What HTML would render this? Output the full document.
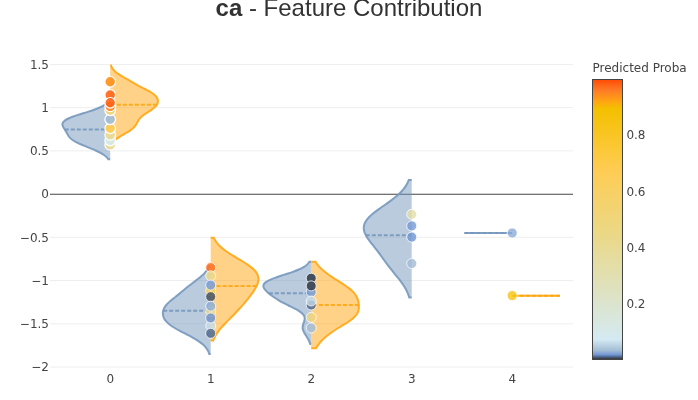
<!DOCTYPE html>
<html lang="en">
<head>
<meta charset="utf-8">
<title>ca - Feature Contribution</title>
<style>
html,body{margin:0;padding:0;background:#fff;overflow:hidden}
body{width:698px;height:400px;font-family:"Liberation Sans","DejaVu Sans",sans-serif}
#chart{display:block;width:698px;height:400px;background:#fff}
#chart .crisp{shape-rendering:crispEdges}
#chart text{white-space:pre}
</style>
</head>
<body>
<svg id="chart" width="698" height="400" viewBox="0 0 698 400" role="img" aria-label="ca - Feature Contribution">
<defs id="defs-fc"><g class="clips"><clipPath id="clipfcxyplot" class="plotclip"><rect width="523" height="320"></rect>
</clipPath>
<clipPath class="axesclip" id="clipfcx"><rect x="50" y="0" width="523" height="400"></rect>
</clipPath>
<clipPath class="axesclip" id="clipfcy"><rect x="0" y="50" width="698" height="320"></rect>
</clipPath>
<clipPath class="axesclip" id="clipfcxy"><rect x="50" y="50" width="523" height="320"></rect>
</clipPath>
</g>
<g class="gradients"><linearGradient x1="0" y1="1" x2="0" y2="0" gradientUnits="objectBoundingBox" id="gfc-cbcoloraxis"><stop offset="0%" stop-color="rgb(52, 55, 54)" stop-opacity="1"></stop>
<stop offset="0.7%" stop-color="rgb(74, 99, 138)" stop-opacity="1"></stop>
<stop offset="1.6%" stop-color="rgb(116, 153, 214)" stop-opacity="1"></stop>
<stop offset="3%" stop-color="rgb(162, 188, 213)" stop-opacity="1"></stop>
<stop offset="7%" stop-color="rgb(212, 234, 242)" stop-opacity="1"></stop>
<stop offset="45%" stop-color="rgb(235, 216, 134)" stop-opacity="1"></stop>
<stop offset="68%" stop-color="rgb(255, 204, 83)" stop-opacity="1"></stop>
<stop offset="89.7%" stop-color="rgb(244, 192, 0)" stop-opacity="1"></stop>
<stop offset="92.2%" stop-color="rgb(255, 166, 17)" stop-opacity="1"></stop>
<stop offset="96.3%" stop-color="rgb(255, 123, 38)" stop-opacity="1"></stop>
<stop offset="100%" stop-color="rgb(255, 77, 7)" stop-opacity="1"></stop>
</linearGradient>
</g>
</defs>
<g class="cartesianlayer"><g class="subplot xy"><g class="gridlayer"><g class="y"><path class="ygrid" transform="translate(0,367.02)" d="M50,0h523" style="stroke: rgb(238, 238, 238); stroke-opacity: 1; stroke-width: 1px;"></path>
<path class="ygrid" transform="translate(0,323.79)" d="M50,0h523" style="stroke: rgb(238, 238, 238); stroke-opacity: 1; stroke-width: 1px;"></path>
<path class="ygrid" transform="translate(0,280.56)" d="M50,0h523" style="stroke: rgb(238, 238, 238); stroke-opacity: 1; stroke-width: 1px;"></path>
<path class="ygrid" transform="translate(0,237.33)" d="M50,0h523" style="stroke: rgb(238, 238, 238); stroke-opacity: 1; stroke-width: 1px;"></path>
<path class="ygrid" transform="translate(0,150.87)" d="M50,0h523" style="stroke: rgb(238, 238, 238); stroke-opacity: 1; stroke-width: 1px;"></path>
<path class="ygrid" transform="translate(0,107.64)" d="M50,0h523" style="stroke: rgb(238, 238, 238); stroke-opacity: 1; stroke-width: 1px;"></path>
<path class="ygrid" transform="translate(0,64.41)" d="M50,0h523" style="stroke: rgb(238, 238, 238); stroke-opacity: 1; stroke-width: 1px;"></path>
</g>
</g>
<g class="zerolinelayer"><path class="yzl zl" transform="translate(0,194.2)" d="M50,0h523" style="stroke: rgb(68, 68, 68); stroke-opacity: 1; stroke-width: 1.1px;"></path>
</g>
<g class="overplot"><g class="xy" transform="translate(50,50)" clip-path="url(#clipfcxyplot)"><g class="violinlayer mlayer"><g class="trace violins" style="opacity: 1;"><path class="violin" d="M60.2,53.5L56.41,53.5Q54.55,54.97 53.43,55.64C52.15,56.41 50.66,57.11 49.11,57.79C47.38,58.55 45.44,59.25 43.49,59.94C41.4,60.68 39.15,61.37 36.93,62.08C34.66,62.8 32.29,63.5 30.04,64.23C27.85,64.94 25.63,65.63 23.6,66.38C21.73,67.07 19.87,67.74 18.29,68.52C16.93,69.19 15.59,69.87 14.62,70.67C13.82,71.33 13.09,72.04 12.74,72.81C12.44,73.48 12.37,74.25 12.46,74.96C12.55,75.69 12.95,76.41 13.3,77.11C13.67,77.84 14.19,78.54 14.63,79.25C15.07,79.97 15.54,80.68 15.96,81.4C16.37,82.11 16.73,82.84 17.12,83.55C17.51,84.27 17.85,84.99 18.31,85.69C18.79,86.42 19.31,87.16 19.97,87.84C20.7,88.6 21.57,89.3 22.53,89.98C23.61,90.74 24.86,91.44 26.15,92.13C27.56,92.88 29.13,93.58 30.7,94.28C32.36,95.01 34.12,95.71 35.85,96.42C37.6,97.14 39.41,97.84 41.15,98.57C42.85,99.28 44.56,99.98 46.17,100.72C47.69,101.42 49.18,102.11 50.54,102.86C51.78,103.55 52.98,104.25 54.02,105.01C54.96,105.69 55.83,106.4 56.56,107.15Q57.22,107.83 58.24,109.3L60.2,109.3" style="vector-effect: none; stroke-width: 2px; stroke: rgb(117, 152, 189); stroke-opacity: 0.9; fill: rgb(117, 152, 189); fill-opacity: 0.5;"></path>
<path class="meanline" d="M14.77766227722168,79.49H60.2" style="fill: none; stroke-width: 2px; stroke-dasharray: 4px, 2px; stroke: rgb(117, 152, 189); stroke-opacity: 0.9;"></path>
</g>
<g class="trace violins" style="opacity: 1;"><path class="violin" d="M60.2,93.5L62.17,93.5Q63.2,91.98 63.86,91.27C64.58,90.49 65.44,89.76 66.35,89.05C67.34,88.27 68.46,87.54 69.6,86.82C70.8,86.06 72.11,85.33 73.37,84.59C74.64,83.84 75.97,83.12 77.2,82.36C78.39,81.63 79.58,80.9 80.64,80.13C81.62,79.41 82.56,78.68 83.37,77.9C84.11,77.19 84.77,76.44 85.34,75.67C85.88,74.95 86.3,74.2 86.74,73.45C87.17,72.71 87.52,71.96 87.96,71.22C88.41,70.47 88.85,69.71 89.41,68.99C90.01,68.22 90.7,67.48 91.47,66.76C92.31,65.98 93.28,65.25 94.27,64.53C95.32,63.76 96.49,63.04 97.62,62.3C98.76,61.55 99.98,60.83 101.08,60.07C102.13,59.34 103.2,58.62 104.1,57.84C104.92,57.13 105.7,56.4 106.29,55.62C106.82,54.91 107.27,54.16 107.54,53.39C107.8,52.67 107.94,51.9 107.94,51.16C107.94,50.42 107.8,49.65 107.55,48.93C107.28,48.16 106.85,47.41 106.32,46.7C105.73,45.91 104.95,45.18 104.1,44.47C103.16,43.68 102.02,42.96 100.87,42.24C99.63,41.47 98.23,40.75 96.87,40.02C95.47,39.27 93.99,38.54 92.56,37.79C91.14,37.05 89.72,36.31 88.34,35.56C86.98,34.82 85.66,34.08 84.33,33.33C83.02,32.59 81.73,31.84 80.43,31.1C79.13,30.36 77.82,29.61 76.52,28.87C75.22,28.13 73.9,27.39 72.63,26.64C71.39,25.91 70.14,25.17 68.99,24.41C67.91,23.69 66.84,22.96 65.91,22.19C65.05,21.48 64.25,20.74 63.58,19.96C62.97,19.25 62.43,18.5 62.01,17.73Q61.61,17.01 61.08,15.5L60.2,15.5" style="vector-effect: none; stroke-width: 2px; stroke: rgb(255, 166, 17); stroke-opacity: 0.9; fill: rgb(255, 166, 17); fill-opacity: 0.5;"></path>
<path class="meanline" d="M106.84425354003906,54.81H60.2" style="fill: none; stroke-width: 2px; stroke-dasharray: 4px, 2px; stroke: rgb(255, 166, 17); stroke-opacity: 0.9;"></path>
</g>
<g class="trace violins" style="opacity: 1;"><path class="violin" d="M160.7,216L158.98,216Q158.05,218.2 157.42,219.26C156.75,220.38 155.93,221.47 155.02,222.53C154.06,223.66 152.93,224.73 151.77,225.79C150.55,226.91 149.19,227.98 147.85,229.05C146.47,230.15 145.01,231.23 143.6,232.32C142.19,233.41 140.76,234.49 139.37,235.58C138,236.66 136.66,237.75 135.32,238.84C133.99,239.92 132.69,241.01 131.37,242.1C130.04,243.19 128.7,244.28 127.35,245.37C125.99,246.46 124.58,247.53 123.24,248.63C121.92,249.71 120.57,250.77 119.36,251.89C118.21,252.95 117.08,254.03 116.16,255.16C115.31,256.21 114.54,257.29 114,258.42C113.5,259.47 113.13,260.58 112.96,261.68C112.79,262.76 112.8,263.87 112.97,264.95C113.14,266.05 113.5,267.16 114.01,268.21C114.56,269.34 115.31,270.43 116.21,271.47C117.2,272.62 118.46,273.7 119.79,274.74C121.26,275.89 122.98,276.95 124.72,278C126.58,279.13 128.63,280.19 130.65,281.26C132.72,282.36 134.9,283.42 136.98,284.52C139.03,285.6 141.12,286.67 143.07,287.79C144.92,288.85 146.75,289.92 148.4,291.05C149.93,292.1 151.4,293.17 152.68,294.31C153.86,295.36 154.94,296.45 155.85,297.58C156.69,298.63 157.4,299.72 157.99,300.84Q158.55,301.9 159.31,304.1L160.7,304.1" style="vector-effect: none; stroke-width: 2px; stroke: rgb(117, 152, 189); stroke-opacity: 0.9; fill: rgb(117, 152, 189); fill-opacity: 0.5;"></path>
<path class="meanline" d="M113.17778015136719,260.64H160.7" style="fill: none; stroke-width: 2px; stroke-dasharray: 4px, 2px; stroke: rgb(117, 152, 189); stroke-opacity: 0.9;"></path>
</g>
<g class="trace violins" style="opacity: 1;"><path class="violin" d="M160.7,290.5L163.27,290.5Q164.48,287.5 165.27,286.04C166.09,284.52 167.07,283.03 168.12,281.57C169.22,280.05 170.47,278.58 171.75,277.11C173.07,275.6 174.5,274.12 175.92,272.64C177.36,271.14 178.87,269.67 180.34,268.18C181.81,266.69 183.29,265.21 184.73,263.71C186.16,262.23 187.57,260.74 188.94,259.24C190.3,257.76 191.62,256.28 192.92,254.78C194.21,253.3 195.47,251.81 196.7,250.31C197.91,248.83 199.1,247.35 200.24,245.85C201.36,244.37 202.47,242.89 203.47,241.38C204.44,239.91 205.41,238.44 206.17,236.92C206.91,235.46 207.62,233.97 208,232.45C208.36,230.99 208.6,229.46 208.44,227.99C208.27,226.48 207.75,224.94 206.97,223.52C206.1,221.95 204.75,220.47 203.3,219.06C201.68,217.48 199.64,216.03 197.6,214.59C195.4,213.04 192.92,211.59 190.52,210.12C188.07,208.62 185.48,207.17 183.05,205.66C180.69,204.19 178.31,202.73 176.16,201.19C174.15,199.75 172.2,198.29 170.52,196.73C168.98,195.3 167.58,193.81 166.42,192.26Q165.35,190.82 163.74,187.8L160.7,187.8" style="vector-effect: none; stroke-width: 2px; stroke: rgb(255, 166, 17); stroke-opacity: 0.9; fill: rgb(255, 166, 17); fill-opacity: 0.5;"></path>
<path class="meanline" d="M206.58889770507812,236.08H160.7" style="fill: none; stroke-width: 2px; stroke-dasharray: 4px, 2px; stroke: rgb(255, 166, 17); stroke-opacity: 0.9;"></path>
</g>
<g class="trace violins" style="opacity: 1;"><path class="violin" d="M261.2,211.8L259.35,211.8Q258.17,213.56 257.35,214.37C256.42,215.29 255.25,216.14 253.97,216.94C252.49,217.87 250.73,218.7 248.9,219.51C246.84,220.42 244.52,221.26 242.19,222.09C239.71,222.98 237.01,223.8 234.42,224.66C231.82,225.52 229.1,226.34 226.62,227.23C224.31,228.06 221.96,228.86 220,229.8C218.32,230.6 216.64,231.39 215.5,232.37C214.59,233.15 213.74,234.03 213.46,234.95C213.21,235.76 213.36,236.7 213.64,237.52C213.95,238.42 214.7,239.27 215.39,240.09C216.14,240.99 217.1,241.82 218.04,242.66C219.02,243.54 220.09,244.39 221.17,245.23C222.29,246.1 223.45,246.96 224.67,247.8C225.95,248.68 227.27,249.54 228.67,250.38C230.14,251.26 231.7,252.11 233.29,252.95C234.95,253.83 236.71,254.67 238.44,255.52C240.18,256.38 241.99,257.21 243.68,258.09C245.3,258.93 246.95,259.75 248.39,260.66C249.69,261.48 250.98,262.31 251.96,263.24C252.81,264.05 253.6,264.9 254.06,265.81C254.47,266.62 254.67,267.52 254.71,268.38C254.75,269.23 254.51,270.1 254.3,270.95C254.09,271.82 253.69,272.66 253.43,273.52C253.17,274.37 252.86,275.23 252.74,276.1C252.62,276.95 252.59,277.82 252.7,278.67C252.82,279.54 253.11,280.4 253.45,281.24C253.81,282.12 254.32,282.96 254.82,283.81C255.33,284.68 255.95,285.52 256.49,286.38C257.03,287.24 257.59,288.09 258.07,288.96C258.54,289.81 258.97,290.66 259.33,291.53Q259.68,292.38 260.2,294.1L261.2,294.1" style="vector-effect: none; stroke-width: 2px; stroke: rgb(117, 152, 189); stroke-opacity: 0.9; fill: rgb(117, 152, 189); fill-opacity: 0.5;"></path>
<path class="meanline" d="M218.84469604492188,243.36H261.2" style="fill: none; stroke-width: 2px; stroke-dasharray: 4px, 2px; stroke: rgb(117, 152, 189); stroke-opacity: 0.9;"></path>
</g>
<g class="trace violins" style="opacity: 1;"><path class="violin" d="M261.2,298.3L265.91,298.3Q267.5,295.77 268.43,294.54C269.4,293.26 270.48,292 271.64,290.78C272.86,289.49 274.17,288.24 275.58,287.02C277.06,285.73 278.67,284.48 280.34,283.26C282.1,281.97 284,280.73 285.91,279.5C287.89,278.23 290,277 292.03,275.74C294.05,274.49 296.16,273.26 298.06,271.97C299.85,270.75 301.66,269.54 303.15,268.21C304.49,267.02 305.75,265.78 306.65,264.45C307.46,263.26 308.07,261.97 308.45,260.69C308.81,259.46 308.91,258.19 308.94,256.93C308.97,255.68 308.84,254.42 308.65,253.17C308.46,251.91 308.19,250.64 307.77,249.41C307.34,248.14 306.8,246.86 306.07,245.65C305.29,244.35 304.29,243.09 303.16,241.89C301.93,240.58 300.43,239.34 298.89,238.13C297.24,236.83 295.37,235.6 293.52,234.36C291.61,233.08 289.57,231.86 287.61,230.6C285.65,229.35 283.65,228.11 281.76,226.84C279.93,225.61 278.11,224.37 276.42,223.08C274.82,221.86 273.26,220.61 271.86,219.32C270.54,218.1 269.3,216.85 268.21,215.56Q267.19,214.34 265.49,211.8L261.2,211.8" style="vector-effect: none; stroke-width: 2px; stroke: rgb(255, 166, 17); stroke-opacity: 0.9; fill: rgb(255, 166, 17); fill-opacity: 0.5;"></path>
<path class="meanline" d="M308.86883544921875,254.95H261.2" style="fill: none; stroke-width: 2px; stroke-dasharray: 4px, 2px; stroke: rgb(255, 166, 17); stroke-opacity: 0.9;"></path>
</g>
<g class="trace violins" style="opacity: 1;"><path class="violin" d="M361.7,130.04L358.75,130.04Q357.13,133.82 356.01,135.63C354.82,137.55 353.37,139.42 351.74,141.22C349.99,143.16 347.92,145 345.78,146.81C343.5,148.73 340.95,150.56 338.43,152.4C335.84,154.29 333.06,156.11 330.46,158C327.92,159.84 325.27,161.65 323.01,163.59C320.91,165.39 318.8,167.2 317.29,169.18C315.94,170.95 314.72,172.84 314.18,174.77C313.67,176.57 313.64,178.53 313.96,180.36C314.29,182.26 315.25,184.14 316.22,185.95C317.25,187.87 318.68,189.7 320.03,191.54C321.41,193.43 322.97,195.26 324.42,197.13C325.87,198.99 327.32,200.85 328.72,202.72C330.11,204.57 331.43,206.45 332.78,208.31C334.13,210.17 335.44,212.05 336.83,213.9C338.23,215.77 339.67,217.64 341.14,219.49C342.63,221.36 344.19,223.21 345.7,225.08C347.2,226.94 348.76,228.78 350.17,230.67C351.55,232.51 352.91,234.36 354.09,236.26C355.23,238.09 356.28,239.96 357.15,241.85Q357.99,243.68 359.24,247.44L361.7,247.44" style="vector-effect: none; stroke-width: 2px; stroke: rgb(117, 152, 189); stroke-opacity: 0.9; fill: rgb(117, 152, 189); fill-opacity: 0.5;"></path>
<path class="meanline" d="M315.80706787109375,185.17H361.7" style="fill: none; stroke-width: 2px; stroke-dasharray: 4px, 2px; stroke: rgb(117, 152, 189); stroke-opacity: 0.9;"></path>
</g>
<g class="trace violins" style="opacity: 1;"><path class="violin" d="M462.2,183L414.46,183L462.2,183" style="vector-effect: none; stroke-width: 2px; stroke: rgb(117, 152, 189); stroke-opacity: 0.9; fill: rgb(117, 152, 189); fill-opacity: 0.5;"></path>
<path class="meanline" d="M414.4599914550781,183H462.2" style="fill: none; stroke-width: 2px; stroke-dasharray: 4px, 2px; stroke: rgb(117, 152, 189); stroke-opacity: 0.9;"></path>
</g>
<g class="trace violins" style="opacity: 1;"><path class="violin" d="M462.2,245.75L509.94,245.75L462.2,245.75" style="vector-effect: none; stroke-width: 2px; stroke: rgb(255, 166, 17); stroke-opacity: 0.9; fill: rgb(255, 166, 17); fill-opacity: 0.5;"></path>
<path class="meanline" d="M509.94000244140625,245.75H462.2" style="fill: none; stroke-width: 2px; stroke-dasharray: 4px, 2px; stroke: rgb(255, 166, 17); stroke-opacity: 0.9;"></path>
</g>
</g>
<g class="scatterlayer mlayer"><g class="trace scatter traceea80ed" style="stroke-miterlimit: 2; opacity: 1;"><g class="points"><path class="point" transform="translate(60.2,94.9)" d="M5.3,0A5.3,5.3 0 1,1 0,-5.3A5.3,5.3 0 0,1 5.3,0Z" style="stroke-width: 1.2px; fill: rgb(232, 218, 147); fill-opacity: 0.92; stroke: rgb(255, 255, 255); stroke-opacity: 1;"></path>
<path class="point" transform="translate(60.2,90.5)" d="M5.3,0A5.3,5.3 0 1,1 0,-5.3A5.3,5.3 0 0,1 5.3,0Z" style="stroke-width: 1.2px; fill: rgb(213, 233, 237); fill-opacity: 0.85; stroke: rgb(255, 255, 255); stroke-opacity: 1;"></path>
<path class="point" transform="translate(60.2,84.9)" d="M5.3,0A5.3,5.3 0 1,1 0,-5.3A5.3,5.3 0 0,1 5.3,0Z" style="stroke-width: 1.2px; fill: rgb(232, 218, 147); fill-opacity: 0.92; stroke: rgb(255, 255, 255); stroke-opacity: 1;"></path>
<path class="point" transform="translate(60.2,78.3)" d="M5.3,0A5.3,5.3 0 1,1 0,-5.3A5.3,5.3 0 0,1 5.3,0Z" style="stroke-width: 1.2px; fill: rgb(255, 204, 83); fill-opacity: 0.92; stroke: rgb(255, 255, 255); stroke-opacity: 1;"></path>
<path class="point" transform="translate(60.2,69.3)" d="M5.3,0A5.3,5.3 0 1,1 0,-5.3A5.3,5.3 0 0,1 5.3,0Z" style="stroke-width: 1.2px; fill: rgb(162, 188, 213); fill-opacity: 0.9; stroke: rgb(255, 255, 255); stroke-opacity: 1;"></path>
<path class="point" transform="translate(60.2,60.3)" d="M5.3,0A5.3,5.3 0 1,1 0,-5.3A5.3,5.3 0 0,1 5.3,0Z" style="stroke-width: 1.2px; fill: rgb(242, 212, 116); fill-opacity: 0.9; stroke: rgb(255, 255, 255); stroke-opacity: 1;"></path>
<path class="point" transform="translate(60.2,56.4)" d="M5.3,0A5.3,5.3 0 1,1 0,-5.3A5.3,5.3 0 0,1 5.3,0Z" style="stroke-width: 1.2px; fill: rgb(255, 134, 33); fill-opacity: 0.9; stroke: rgb(255, 255, 255); stroke-opacity: 1;"></path>
<path class="point" transform="translate(60.2,45)" d="M5.3,0A5.3,5.3 0 1,1 0,-5.3A5.3,5.3 0 0,1 5.3,0Z" style="stroke-width: 1.2px; fill: rgb(255, 100, 22); fill-opacity: 0.9; stroke: rgb(255, 255, 255); stroke-opacity: 1;"></path>
<path class="point" transform="translate(60.2,52.8)" d="M5.3,0A5.3,5.3 0 1,1 0,-5.3A5.3,5.3 0 0,1 5.3,0Z" style="stroke-width: 1.2px; fill: rgb(255, 100, 22); fill-opacity: 0.9; stroke: rgb(255, 255, 255); stroke-opacity: 1;"></path>
<path class="point" transform="translate(60.2,31.8)" d="M5.3,0A5.3,5.3 0 1,1 0,-5.3A5.3,5.3 0 0,1 5.3,0Z" style="stroke-width: 1.2px; fill: rgb(255, 145, 27); fill-opacity: 0.92; stroke: rgb(255, 255, 255); stroke-opacity: 1;"></path>
<path class="point" transform="translate(160.7,240.7)" d="M5,0A5,5 0 1,1 0,-5A5,5 0 0,1 5,0Z" style="stroke-width: 0.8px; fill: rgb(253, 202, 68); fill-opacity: 0.8; stroke: rgb(255, 255, 255); stroke-opacity: 0.95;"></path>
<path class="point" transform="translate(160.7,261.8)" d="M5,0A5,5 0 1,1 0,-5A5,5 0 0,1 5,0Z" style="stroke-width: 0.8px; fill: rgb(235, 216, 134); fill-opacity: 0.8; stroke: rgb(255, 255, 255); stroke-opacity: 0.95;"></path>
<path class="point" transform="translate(160.7,275.6)" d="M5,0A5,5 0 1,1 0,-5A5,5 0 0,1 5,0Z" style="stroke-width: 0.8px; fill: rgb(199, 222, 234); fill-opacity: 0.75; stroke: rgb(255, 255, 255); stroke-opacity: 0.9;"></path>
<path class="point" transform="translate(160.7,217.6)" d="M5,0A5,5 0 1,1 0,-5A5,5 0 0,1 5,0Z" style="stroke-width: 0.8px; fill: rgb(255, 115, 33); fill-opacity: 0.88; stroke: rgb(255, 255, 255); stroke-opacity: 1;"></path>
<path class="point" transform="translate(160.7,225.8)" d="M5,0A5,5 0 1,1 0,-5A5,5 0 0,1 5,0Z" style="stroke-width: 0.8px; fill: rgb(235, 216, 134); fill-opacity: 0.8; stroke: rgb(255, 255, 255); stroke-opacity: 0.95;"></path>
<path class="point" transform="translate(160.7,235.1)" d="M5,0A5,5 0 1,1 0,-5A5,5 0 0,1 5,0Z" style="stroke-width: 0.8px; fill: rgb(116, 153, 214); fill-opacity: 0.8; stroke: rgb(255, 255, 255); stroke-opacity: 0.95;"></path>
<path class="point" transform="translate(160.7,246.7)" d="M5,0A5,5 0 1,1 0,-5A5,5 0 0,1 5,0Z" style="stroke-width: 0.8px; fill: rgb(60, 72, 86); fill-opacity: 0.8; stroke: rgb(255, 255, 255); stroke-opacity: 0.95;"></path>
<path class="point" transform="translate(160.7,256.15)" d="M5,0A5,5 0 1,1 0,-5A5,5 0 0,1 5,0Z" style="stroke-width: 0.8px; fill: rgb(139, 171, 214); fill-opacity: 0.8; stroke: rgb(255, 255, 255); stroke-opacity: 0.95;"></path>
<path class="point" transform="translate(160.7,267.9)" d="M5,0A5,5 0 1,1 0,-5A5,5 0 0,1 5,0Z" style="stroke-width: 0.8px; fill: rgb(109, 144, 201); fill-opacity: 0.8; stroke: rgb(255, 255, 255); stroke-opacity: 0.95;"></path>
<path class="point" transform="translate(160.7,283.35)" d="M5,0A5,5 0 1,1 0,-5A5,5 0 0,1 5,0Z" style="stroke-width: 0.8px; fill: rgb(74, 99, 138); fill-opacity: 0.8; stroke: rgb(255, 255, 255); stroke-opacity: 0.95;"></path>
<path class="point" transform="translate(261.2,255)" d="M5,0A5,5 0 1,1 0,-5A5,5 0 0,1 5,0Z" style="stroke-width: 0.8px; fill: rgb(74, 99, 138); fill-opacity: 0.8; stroke: rgb(255, 255, 255); stroke-opacity: 0.95;"></path>
<path class="point" transform="translate(261.2,241.9)" d="M5,0A5,5 0 1,1 0,-5A5,5 0 0,1 5,0Z" style="stroke-width: 0.8px; fill: rgb(116, 153, 214); fill-opacity: 0.8; stroke: rgb(255, 255, 255); stroke-opacity: 0.95;"></path>
<path class="point" transform="translate(261.2,228.2)" d="M5,0A5,5 0 1,1 0,-5A5,5 0 0,1 5,0Z" style="stroke-width: 0.8px; fill: rgb(60, 72, 86); fill-opacity: 0.95; stroke: rgb(255, 255, 255); stroke-opacity: 1;"></path>
<path class="point" transform="translate(261.2,235.9)" d="M5,0A5,5 0 1,1 0,-5A5,5 0 0,1 5,0Z" style="stroke-width: 0.8px; fill: rgb(60, 72, 86); fill-opacity: 0.95; stroke: rgb(255, 255, 255); stroke-opacity: 1;"></path>
<path class="point" transform="translate(261.2,251)" d="M5,0A5,5 0 1,1 0,-5A5,5 0 0,1 5,0Z" style="stroke-width: 0.8px; fill: rgb(192, 216, 230); fill-opacity: 0.8; stroke: rgb(255, 255, 255); stroke-opacity: 0.95;"></path>
<path class="point" transform="translate(261.2,267.4)" d="M5,0A5,5 0 1,1 0,-5A5,5 0 0,1 5,0Z" style="stroke-width: 0.8px; fill: rgb(240, 213, 121); fill-opacity: 0.8; stroke: rgb(255, 255, 255); stroke-opacity: 0.95;"></path>
<path class="point" transform="translate(261.2,277.95)" d="M5,0A5,5 0 1,1 0,-5A5,5 0 0,1 5,0Z" style="stroke-width: 0.8px; fill: rgb(162, 188, 213); fill-opacity: 0.8; stroke: rgb(255, 255, 255); stroke-opacity: 0.95;"></path>
<path class="point" transform="translate(361.7,164.3)" d="M5,0A5,5 0 1,1 0,-5A5,5 0 0,1 5,0Z" style="stroke-width: 0.8px; fill: rgb(228, 221, 167); fill-opacity: 0.8; stroke: rgb(255, 255, 255); stroke-opacity: 0.95;"></path>
<path class="point" transform="translate(361.7,175.9)" d="M5,0A5,5 0 1,1 0,-5A5,5 0 0,1 5,0Z" style="stroke-width: 0.8px; fill: rgb(116, 153, 214); fill-opacity: 0.8; stroke: rgb(255, 255, 255); stroke-opacity: 0.95;"></path>
<path class="point" transform="translate(361.7,187.1)" d="M5,0A5,5 0 1,1 0,-5A5,5 0 0,1 5,0Z" style="stroke-width: 0.8px; fill: rgb(116, 153, 214); fill-opacity: 0.85; stroke: rgb(255, 255, 255); stroke-opacity: 1;"></path>
<path class="point" transform="translate(361.7,213.5)" d="M5,0A5,5 0 1,1 0,-5A5,5 0 0,1 5,0Z" style="stroke-width: 0.8px; fill: rgb(162, 188, 213); fill-opacity: 0.8; stroke: rgb(255, 255, 255); stroke-opacity: 0.95;"></path>
<path class="point" transform="translate(462.2,183)" d="M5,0A5,5 0 1,1 0,-5A5,5 0 0,1 5,0Z" style="stroke-width: 0.8px; fill: rgb(139, 171, 214); fill-opacity: 0.8; stroke: rgb(255, 255, 255); stroke-opacity: 0.95;"></path>
<path class="point" transform="translate(462.2,245.6)" d="M5,0A5,5 0 1,1 0,-5A5,5 0 0,1 5,0Z" style="stroke-width: 0.8px; fill: rgb(246, 195, 17); fill-opacity: 0.8; stroke: rgb(255, 255, 255); stroke-opacity: 0.95;"></path>
</g>
</g>
</g>
</g>
</g>
<path class="xlines-above crisp" d="M0,0" style="fill: none;"></path>
<path class="ylines-above crisp" d="M0,0" style="fill: none;"></path>
<g class="xaxislayer-above"><g class="xtick"><text text-anchor="middle" x="0" y="383" transform="translate(110.2,0)" style="font-family: 'DejaVu Sans', 'Liberation Sans', sans-serif; font-size: 12px; fill: rgb(68, 68, 68); fill-opacity: 1; white-space: pre;">0</text>
</g>
<g class="xtick"><text text-anchor="middle" x="0" y="383" transform="translate(210.7,0)" style="font-family: 'DejaVu Sans', 'Liberation Sans', sans-serif; font-size: 12px; fill: rgb(68, 68, 68); fill-opacity: 1; white-space: pre;">1</text>
</g>
<g class="xtick"><text text-anchor="middle" x="0" y="383" transform="translate(311.2,0)" style="font-family: 'DejaVu Sans', 'Liberation Sans', sans-serif; font-size: 12px; fill: rgb(68, 68, 68); fill-opacity: 1; white-space: pre;">2</text>
</g>
<g class="xtick"><text text-anchor="middle" x="0" y="383" transform="translate(411.7,0)" style="font-family: 'DejaVu Sans', 'Liberation Sans', sans-serif; font-size: 12px; fill: rgb(68, 68, 68); fill-opacity: 1; white-space: pre;">3</text>
</g>
<g class="xtick"><text text-anchor="middle" x="0" y="383" transform="translate(512.2,0)" style="font-family: 'DejaVu Sans', 'Liberation Sans', sans-serif; font-size: 12px; fill: rgb(68, 68, 68); fill-opacity: 1; white-space: pre;">4</text>
</g>
</g>
<g class="yaxislayer-above"><g class="ytick"><text text-anchor="end" x="49" y="4.199999999999999" transform="translate(0,367.02)" style="font-family: 'DejaVu Sans', 'Liberation Sans', sans-serif; font-size: 12px; fill: rgb(68, 68, 68); fill-opacity: 1; white-space: pre;">−2</text>
</g>
<g class="ytick"><text text-anchor="end" x="49" y="4.199999999999999" style="font-family: 'DejaVu Sans', 'Liberation Sans', sans-serif; font-size: 12px; fill: rgb(68, 68, 68); fill-opacity: 1; white-space: pre;" transform="translate(0,323.79)">−1.5</text>
</g>
<g class="ytick"><text text-anchor="end" x="49" y="4.199999999999999" style="font-family: 'DejaVu Sans', 'Liberation Sans', sans-serif; font-size: 12px; fill: rgb(68, 68, 68); fill-opacity: 1; white-space: pre;" transform="translate(0,280.56)">−1</text>
</g>
<g class="ytick"><text text-anchor="end" x="49" y="4.199999999999999" style="font-family: 'DejaVu Sans', 'Liberation Sans', sans-serif; font-size: 12px; fill: rgb(68, 68, 68); fill-opacity: 1; white-space: pre;" transform="translate(0,237.33)">−0.5</text>
</g>
<g class="ytick"><text text-anchor="end" x="49" y="4.199999999999999" style="font-family: 'DejaVu Sans', 'Liberation Sans', sans-serif; font-size: 12px; fill: rgb(68, 68, 68); fill-opacity: 1; white-space: pre;" transform="translate(0,194.1)">0</text>
</g>
<g class="ytick"><text text-anchor="end" x="49" y="4.199999999999999" style="font-family: 'DejaVu Sans', 'Liberation Sans', sans-serif; font-size: 12px; fill: rgb(68, 68, 68); fill-opacity: 1; white-space: pre;" transform="translate(0,150.87)">0.5</text>
</g>
<g class="ytick"><text text-anchor="end" x="49" y="4.199999999999999" style="font-family: 'DejaVu Sans', 'Liberation Sans', sans-serif; font-size: 12px; fill: rgb(68, 68, 68); fill-opacity: 1; white-space: pre;" transform="translate(0,107.64)">1</text>
</g>
<g class="ytick"><text text-anchor="end" x="49" y="4.199999999999999" style="font-family: 'DejaVu Sans', 'Liberation Sans', sans-serif; font-size: 12px; fill: rgb(68, 68, 68); fill-opacity: 1; white-space: pre;" transform="translate(0,64.41)">1.5</text>
</g>
</g>
</g>
</g>
<g class="infolayer"><g class="cbcoloraxis colorbar" transform="translate(0,50)"><g class="cbfills" transform="translate(0,29)"><rect class="cbfill gradient_filled" style="fill: url(#gfc-cbcoloraxis);" x="593" y="1" width="29" height="279"></rect>
</g>
<g class="cbaxis crisp" transform="translate(0,-50)"><g class="ycbcoloraxistick"><text text-anchor="start" x="626.4" y="4.199999999999999" transform="translate(0,304.19)" style="font-family: 'DejaVu Sans', 'Liberation Sans', sans-serif; font-size: 12px; fill: rgb(68, 68, 68); fill-opacity: 1; white-space: pre;">0.2</text>
</g>
<g class="ycbcoloraxistick"><text text-anchor="start" x="626.4" y="4.199999999999999" style="font-family: 'DejaVu Sans', 'Liberation Sans', sans-serif; font-size: 12px; fill: rgb(68, 68, 68); fill-opacity: 1; white-space: pre;" transform="translate(0,247.82999999999998)">0.4</text>
</g>
<g class="ycbcoloraxistick"><text text-anchor="start" x="626.4" y="4.199999999999999" style="font-family: 'DejaVu Sans', 'Liberation Sans', sans-serif; font-size: 12px; fill: rgb(68, 68, 68); fill-opacity: 1; white-space: pre;" transform="translate(0,191.45999999999998)">0.6</text>
</g>
<g class="ycbcoloraxistick"><text text-anchor="start" x="626.4" y="4.199999999999999" style="font-family: 'DejaVu Sans', 'Liberation Sans', sans-serif; font-size: 12px; fill: rgb(68, 68, 68); fill-opacity: 1; white-space: pre;" transform="translate(0,135.08999999999997)">0.8</text>
</g>
</g>
<g class="cbtitleunshift" transform="translate(-50,-50)"><g class="cbtitle" transform="translate(-0.5,-0.5)"><text class="ycbcoloraxistitle" x="643" y="72" text-anchor="start" style="opacity: 1; font-family: 'DejaVu Sans', 'Liberation Sans', sans-serif; font-size: 12px; fill: rgb(68, 68, 68); fill-opacity: 1; white-space: pre;">Predicted Proba</text>
</g>
</g>
<rect class="cboutline" x="592.5" y="29.5" width="30" height="280" style="stroke: rgb(68, 68, 68); stroke-opacity: 1; fill: none; stroke-width: 1;"></rect>
</g>
<g class="g-gtitle"><text class="gtitle" x="349" y="-0.6" text-anchor="middle" dy="0.7em" style="opacity: 1; font-family: 'Liberation Sans', Arial, sans-serif; font-size: 24px; fill: rgb(50, 50, 50); fill-opacity: 1; white-space: pre;"><tspan style="font-weight:bold">ca</tspan> - Feature Contribution</text>
</g>
</g>
</svg>
</body>
</html>
